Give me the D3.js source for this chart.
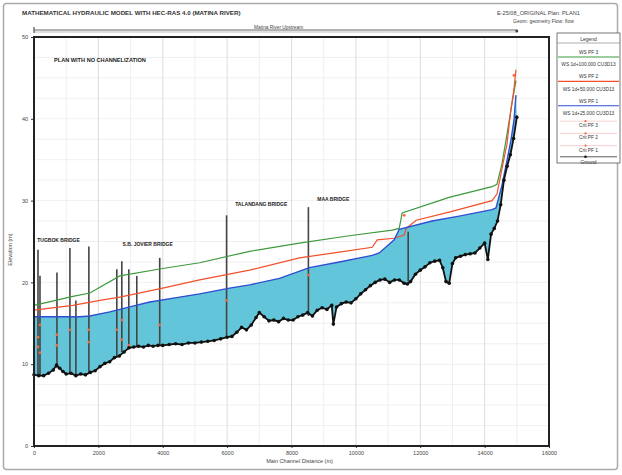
<!DOCTYPE html>
<html>
<head>
<meta charset="utf-8">
<script src="https://cdn.jsdelivr.net/npm/d3@7"></script>
<style>
  body { margin: 0; background: #fff; }
  svg text { font-family: "Liberation Sans", Arial, sans-serif; }
</style>
</head>
<body>
<div id="chart"></div>
<script>
// ground profile (main channel distance, elevation)
var groundStation = [0,150,300,450,600,700,800,900,1000,1150,1300,1450,1600,1750,1900,2050,2200,2350,2500,2650,2800,2950,3100,3250,3400,3550,3700,3850,4000,4200,4400,4600,4800,5000,5200,5400,5600,5800,6000,6150,6300,6450,6600,6750,6900,7000,7150,7300,7450,7600,7750,7900,8050,8200,8350,8500,8650,8800,8950,9100,9250,9300,9400,9550,9700,9850,10000,10150,10300,10450,10600,10750,10900,11050,11200,11350,11500,11600,11700,11850,12000,12150,12300,12450,12600,12700,12800,12900,13000,13100,13250,13400,13550,13700,13850,14000,14100,14200,14300,14400,14500,14600,14700,14800,14900,15000];
var groundElev = [8.7,8.6,8.6,8.9,9.3,9.9,9.5,9.1,8.8,8.9,8.6,8.8,8.7,9.0,9.2,9.7,10.1,10.3,10.8,11.0,11.5,12.0,12.1,12.2,12.1,12.3,12.2,12.3,12.3,12.4,12.5,12.4,12.6,12.6,12.7,12.8,12.9,13.1,13.3,13.4,13.9,14.5,14.2,14.8,15.7,16.3,15.8,15.3,15.4,15.2,15.6,15.4,15.4,15.8,16.0,16.3,15.9,16.6,16.9,16.7,17.2,14.9,17.0,17.4,17.6,17.5,18.0,18.6,19.1,19.6,20.0,20.3,20.4,20.0,20.3,20.3,19.9,19.8,20.1,21.0,21.5,21.9,22.4,22.6,22.7,21.8,20.1,19.9,22.3,23.0,23.2,23.4,23.5,23.6,24.2,24.8,22.8,25.9,26.6,27.5,29.5,32.5,34.2,35.6,37.6,40.2];

// water surface profiles
var pf1Station = [0,1426,1736,2356,2976,3596,4526,5146,6076,6696,7626,8556,9486,10509,10726,11191,11346,12369,13206,14229,14353,14539,14694,14818,14911,14973];
var pf1Elev = [15.8,15.8,15.9,16.4,17.0,17.6,18.2,18.6,19.3,19.7,20.5,21.8,22.5,23.3,23.6,25.2,26.5,27.5,28.1,28.9,29.1,31.9,34.9,37.4,39.8,42.9];
var pf2Station = [0,1209,2046,2666,3999,5146,6696,8246,9486,10509,10664,11191,11501,11563,11873,12896,14229,14384,14539,14694,14818,14911,14973];
var pf2Elev = [16.6,17.2,17.8,18.2,19.3,20.3,21.5,23.0,23.7,24.3,25.2,25.4,25.8,26.6,27.6,28.6,30.0,30.8,33.9,36.9,41.2,43.6,46.0];
var pf3Station = [0,1209,1736,2666,3999,5146,6696,8246,9796,11129,11346,11439,12896,14229,14384,14539,14694,14818,14973];
var pf3Elev = [17.2,18.3,18.7,20.8,21.7,22.4,23.8,24.8,25.7,26.4,26.6,28.5,30.4,31.7,32.0,34.5,38.1,41.1,44.7];

// critical depth markers
var critStation = [124,124,186,186,713,713,1116,1705,1705,2573,2728,2728,2945,3906,5983,8525,11501,14911];
var critElev = [13.3,12.1,11.4,14.8,13.6,12.3,14.2,12.7,14.2,14.2,15.4,13.0,12.3,14.8,17.8,20.9,28.2,45.3];

// bridge decks
var bridgeStation = [124,186,713,1116,1302,1705,2573,2728,2945,3193,3906,5983,8525,11625];
var bridgeTop = [24.0,20.8,21.2,24.2,17.8,24.4,21.6,22.6,21.6,20.8,23.0,28.2,29.2,26.2];
var bridgeNames = ["TUGBOK BRIDGE", "S.B. JOVIER BRIDGE", "TALANDANG BRIDGE", "MAA BRIDGE"];
var bridgeNameStation = [100, 2750, 6250, 8800];
var bridgeNameElev = [25.0, 24.4, 29.4, 30.0];

var xTicks = [0,2000,4000,6000,8000,10000,12000,14000,16000];
var yTicks = [0,10,20,30,40,50];

var legendItems = ["WS PF 3", "WS 1d+100,000 CU3D13", "WS PF 2", "WS 1d+50,000 CU3D13", "WS PF 1", "WS 1d+25,000 CU3D13", "Crit PF 3", "Crit PF 2", "Crit PF 1", "Ground"];

var width = 622, height = 475;
var margin = {top: 37, right: 73, bottom: 29, left: 34};
var plotW = width - margin.left - margin.right;
var plotH = height - margin.top - margin.bottom;

var svg = d3.select("#chart").append("svg")
  .attr("width", width)
  .attr("height", height);

// outer frame
svg.append("rect")
  .attr("x", 3.5).attr("y", 3.5)
  .attr("width", 614).attr("height", 466)
  .attr("rx", 3)
  .attr("fill", "none")
  .attr("stroke", "#aaa")
  .attr("stroke-width", 1.5);

svg.append("text")
  .attr("x", 22).attr("y", 15)
  .attr("font-size", 6.2).attr("font-weight", "bold").attr("fill", "#333")
  .text("MATHEMATICAL HYDRAULIC MODEL WITH HEC-RAS 4.0 (MATINA RIVER)");
svg.append("text")
  .attr("x", 497).attr("y", 15)
  .attr("font-size", 5.6).attr("fill", "#444")
  .text("E-25/08_ORIGINAL      Plan: PLAN1");
svg.append("text")
  .attr("x", 513).attr("y", 23)
  .attr("font-size", 5).attr("fill", "#444")
  .text("Geom: geometry    Flow: flow");

var x = d3.scaleLinear().domain([0, 16000]).range([0, plotW]);
var y = d3.scaleLinear().domain([0, 50]).range([plotH, 0]);

var g = svg.append("g")
  .attr("transform", "translate(" + margin.left + "," + margin.top + ")");

// grid
g.append("g")
  .selectAll("line")
  .data(d3.range(0, 50, 2.5))
  .enter().append("line")
  .attr("x1", 0).attr("x2", plotW)
  .attr("y1", function(d) { return y(d); })
  .attr("y2", function(d) { return y(d); })
  .attr("stroke", "#e6e6e6").attr("stroke-width", 0.6);
g.append("g")
  .selectAll("line")
  .data(d3.range(1000, 16000, 1000))
  .enter().append("line")
  .attr("y1", 0).attr("y2", plotH)
  .attr("x1", function(d) { return x(d); })
  .attr("x2", function(d) { return x(d); })
  .attr("stroke", function(d) { return d % 2000 == 0 ? "#cfcfcf" : "#e8e8e8"; })
  .attr("stroke-width", 0.7);

function pts(st, el) {
  return st.map(function(s, i) { return [s, el[i]]; });
}
var line = d3.line()
  .x(function(d) { return x(d[0]); })
  .y(function(d) { return y(d[1]); });

var ground = pts(groundStation, groundElev);
var pf1 = pts(pf1Station, pf1Elev);

// water fill between ground and WS PF 1
g.append("path")
  .attr("d", line(pf1.concat(ground.slice().reverse())) + "Z")
  .attr("fill", "#63c5d9");

// bridges
g.append("g")
  .selectAll("line")
  .data(bridgeStation)
  .enter().append("line")
  .attr("x1", function(d) { return x(d); })
  .attr("x2", function(d) { return x(d); })
  .attr("y1", function(d, i) { return y(bridgeTop[i]); })
  .attr("y2", function(d) {
    var i = d3.bisectLeft(groundStation, d);
    return y(groundElev[Math.min(i, groundElev.length - 1)]);
  })
  .attr("stroke", "#444").attr("stroke-width", 1.6);

g.append("path").datum(pts(pf3Station, pf3Elev))
  .attr("d", line).attr("fill", "none")
  .attr("stroke", "#3d9a3d").attr("stroke-width", 1.2);
g.append("path").datum(pts(pf2Station, pf2Elev))
  .attr("d", line).attr("fill", "none")
  .attr("stroke", "#f0502a").attr("stroke-width", 1.2);
g.append("path").datum(pf1)
  .attr("d", line).attr("fill", "none")
  .attr("stroke", "#2f4fd0").attr("stroke-width", 1.4);

// critical markers
g.append("g")
  .selectAll("circle")
  .data(pts(critStation, critElev))
  .enter().append("circle")
  .attr("cx", function(d) { return x(d[0]); })
  .attr("cy", function(d) { return y(d[1]); })
  .attr("r", 1.4)
  .attr("fill", "#f06a3a");

// ground
g.append("path").datum(ground)
  .attr("d", line).attr("fill", "none")
  .attr("stroke", "#111").attr("stroke-width", 1.8);
g.append("g")
  .selectAll("circle")
  .data(ground)
  .enter().append("circle")
  .attr("cx", function(d) { return x(d[0]); })
  .attr("cy", function(d) { return y(d[1]); })
  .attr("r", 1.8)
  .attr("fill", "#111");

// labels
g.append("text")
  .attr("x", 20).attr("y", 25)
  .attr("font-size", 5.6).attr("font-weight", "bold").attr("fill", "#222")
  .text("PLAN WITH NO CHANNELIZATION");
g.append("g")
  .selectAll("text")
  .data(bridgeNames)
  .enter().append("text")
  .attr("x", function(d, i) { return x(bridgeNameStation[i]); })
  .attr("y", function(d, i) { return y(bridgeNameElev[i]); })
  .attr("font-size", 5).attr("font-weight", "bold").attr("fill", "#222")
  .text(function(d) { return d; });

// axes
var xAxis = g.append("g")
  .attr("transform", "translate(0," + plotH + ")")
  .call(d3.axisBottom(x).tickValues(xTicks).tickSize(2).tickFormat(d3.format("d")));
var yAxis = g.append("g")
  .call(d3.axisLeft(y).tickValues(yTicks).tickSize(3));
[xAxis, yAxis].forEach(function(a) {
  a.select(".domain").remove();
  a.selectAll("text").attr("font-size", 5.5).attr("fill", "#444");
  a.selectAll("line").attr("stroke", "#333");
});

g.append("rect")
  .attr("width", plotW).attr("height", plotH)
  .attr("fill", "none").attr("stroke", "#222").attr("stroke-width", 2);

svg.append("text")
  .attr("transform", "translate(12," + (margin.top + plotH / 2 + 8) + ") rotate(-90)")
  .attr("text-anchor", "middle")
  .attr("font-size", 5.5).attr("fill", "#444")
  .text("Elevation (m)");
svg.append("text")
  .attr("x", margin.left + plotW / 2 + 8).attr("y", 463)
  .attr("text-anchor", "middle")
  .attr("font-size", 5.5).attr("fill", "#444")
  .text("Main Channel Distance (m)");

// reach bar on top
var reachY = 30;
svg.append("line")
  .attr("x1", margin.left).attr("x2", margin.left + x(15000))
  .attr("y1", reachY).attr("y2", reachY)
  .attr("stroke", "#666").attr("stroke-width", 1);
svg.append("line")
  .attr("x1", margin.left).attr("x2", margin.left + x(15000))
  .attr("y1", reachY + 2).attr("y2", reachY + 2)
  .attr("stroke", "#999").attr("stroke-width", 0.6);
svg.append("line")
  .attr("x1", margin.left).attr("x2", margin.left)
  .attr("y1", reachY - 3).attr("y2", reachY + 3)
  .attr("stroke", "#333");
svg.append("circle")
  .attr("cx", margin.left + x(15000)).attr("cy", reachY + 1).attr("r", 1.5)
  .attr("fill", "#444");
svg.append("text")
  .attr("x", margin.left + x(7600)).attr("y", reachY - 1)
  .attr("text-anchor", "middle")
  .attr("font-size", 4.8).attr("fill", "#444")
  .text("Matina River  Upstream");

// legend
var lx = 557, ly = 33, lw = 63, rowH = 12.2;
var legend = svg.append("g").attr("transform", "translate(" + lx + "," + ly + ")");
legend.append("rect")
  .attr("width", lw).attr("height", 130)
  .attr("fill", "#fff").attr("stroke", "#555").attr("stroke-width", 0.8);
legend.append("line")
  .attr("x1", 0).attr("x2", lw).attr("y1", 10).attr("y2", 10)
  .attr("stroke", "#777").attr("stroke-width", 0.6);
legend.append("text")
  .attr("x", lw / 2).attr("y", 7.5).attr("text-anchor", "middle")
  .attr("font-size", 5).attr("fill", "#333")
  .text("Legend");
var legendColors = ["#3d9a3d", null, "#f0502a", null, "#2f4fd0", null, "crit", "crit", "crit", "ground"];
var rows = legend.selectAll(".row")
  .data(legendItems)
  .enter().append("g")
  .attr("class", "row")
  .attr("transform", function(d, i) { return "translate(0," + (18 + i * rowH) + ")"; });
rows.append("text")
  .attr("x", lw / 2).attr("y", 3)
  .attr("text-anchor", "middle")
  .attr("font-size", 4.8).attr("fill", "#333")
  .text(function(d) { return d; });
rows.each(function(d, i) {
  var c = legendColors[i];
  var r = d3.select(this);
  if (c == null) return;
  if (c == "crit") {
    r.append("line").attr("x1", 3).attr("x2", lw - 3).attr("y1", -3).attr("y2", -3)
      .attr("stroke", "#f3a3a3").attr("stroke-width", 0.5);
    r.append("circle").attr("cx", lw / 2 - 3).attr("cy", -3).attr("r", 1.1).attr("fill", "#f06a3a");
  } else if (c == "ground") {
    r.append("line").attr("x1", 3).attr("x2", lw - 3).attr("y1", -4).attr("y2", -4)
      .attr("stroke", "#333").attr("stroke-width", 0.8);
    r.append("circle").attr("cx", lw / 2 - 3).attr("cy", -4).attr("r", 1.3).attr("fill", "#111");
  } else {
    r.append("line").attr("x1", 1).attr("x2", lw - 1).attr("y1", 6).attr("y2", 6)
      .attr("stroke", c).attr("stroke-width", 1.1);
  }
});
</script>
</body>
</html>
